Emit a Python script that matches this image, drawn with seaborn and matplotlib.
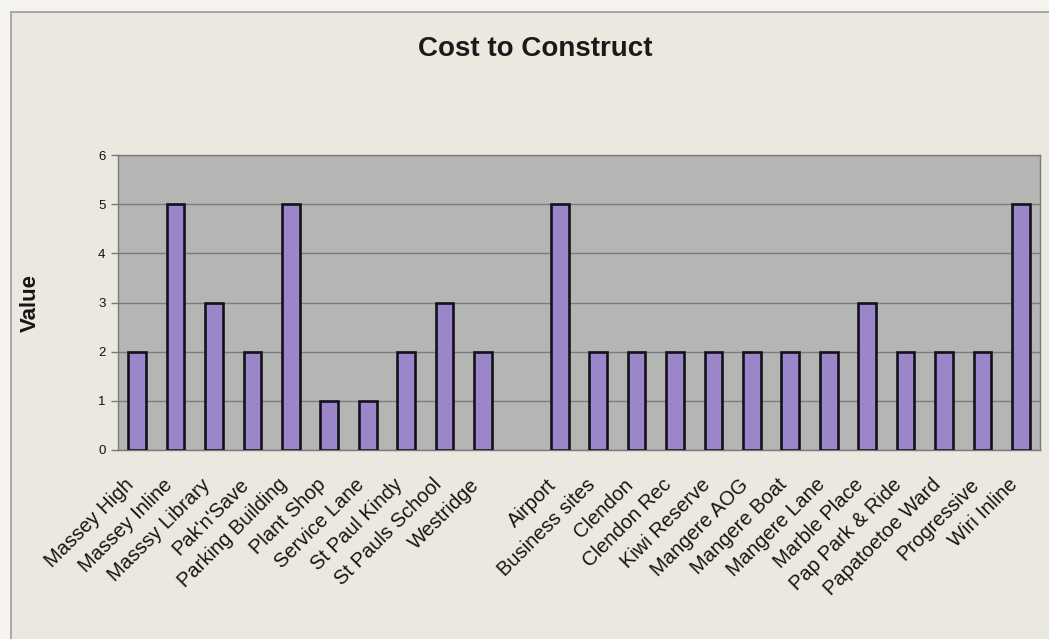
import numpy as np
import pandas as pd
import matplotlib
matplotlib.use("Agg")
import matplotlib.pyplot as plt
from matplotlib.patches import Rectangle
from matplotlib.ticker import FixedLocator
import seaborn as sns

# Sites (an empty slot separates the two groups) and their construction cost scores
sites = [
    "Massey High", "Massey Inline", "Masssy Library", "Pak'n'Save",
    "Parking Building", "Plant Shop", "Service Lane", "St Paul Kindy",
    "St Pauls School", "Westridge", "",
    "Airport", "Business sites", "Clendon", "Clendon Rec", "Kiwi Reserve",
    "Mangere AOG", "Mangere Boat", "Mangere Lane", "Marble Place",
    "Pap Park & Ride", "Papatoetoe Ward", "Progressive", "Wiri Inline",
]
values = [
    2, 5, 3, 2, 5, 1, 1, 2, 3, 2, np.nan,
    5, 2, 2, 2, 2, 2, 2, 2, 3, 2, 2, 2, 5,
]
y_ticks = [0, 1, 2, 3, 4, 5, 6]

df = pd.DataFrame({"site": sites, "value": values})

sns.set_theme(style="white")
plt.rcParams["font.family"] = ["Liberation Sans", "DejaVu Sans"]

fig = plt.figure(figsize=(10.49, 6.39), dpi=100, facecolor="#f5f4f0")

# chart-area panel with its thin border
panel = Rectangle((11 / 1049, -0.01), 1.0, 1 - 12 / 639 + 0.01,
                  transform=fig.transFigure, facecolor="#ebe8df",
                  edgecolor="#9c9c98", linewidth=1.2, zorder=-10)
fig.add_artist(panel)

ax = fig.add_axes([118 / 1049, 1 - 450 / 639, (1040 - 118) / 1049, (450 - 155) / 639])
ax.set_zorder(1)
ax.set_facecolor("#b5b5b3")

sns.barplot(data=df, x="site", y="value", order=sites, ax=ax,
            color="#9a86c8", saturation=1, width=0.46,
            edgecolor="#12121c", linewidth=1.9, errorbar=None, zorder=3)

ax.set_xlim(-0.5, len(sites) - 0.5)
ax.set_ylim(0, 6)
ax.yaxis.set_major_locator(FixedLocator(y_ticks))
ax.set_yticklabels([str(t) for t in y_ticks], fontsize=9.5, color="#111111")
ax.grid(axis="y", color="#7c7c7c", linewidth=1.0, zorder=1)
ax.set_axisbelow(True)

for s in ax.spines.values():
    s.set_color("#7a7a7a")
    s.set_linewidth(1.0)

# category names: slanted, finishing just left of each bar, below the axis
ax.set_xticks(range(len(sites)))
ax.set_xticklabels([])
for i, name in enumerate(sites):
    if not name:
        continue
    ax.annotate(name, xy=(i, 0), xycoords=("data", "axes fraction"),
                xytext=(-13, -25), textcoords="offset pixels",
                rotation=45, ha="right", va="top", rotation_mode="anchor",
                fontsize=14.5, color="#151515", annotation_clip=False)
ax.set_xticks(np.arange(-0.5, len(sites), 1.0), minor=True)
ax.tick_params(axis="x", which="major", length=0)
ax.tick_params(axis="x", which="minor", length=5, width=1, color="#7a7a7a", direction="out")
ax.tick_params(axis="y", length=5, width=1, color="#7a7a7a", direction="out", pad=4)
ax.tick_params(axis="y", which="both", left=True)

ax.set_xlabel("")
ax.set_ylabel("")
fig.text(30 / 1049, 1 - 303 / 639, "Value", rotation=90, ha="center", va="center",
         fontsize=16, fontweight="bold", color="#151515")

fig.text(535 / 1049, 1 - 49 / 639, "Cost to Construct", ha="center", va="center",
         fontsize=20, fontweight="bold", color="#1a1a1a")

fig.savefig("out.png", dpi=100, facecolor=fig.get_facecolor())
